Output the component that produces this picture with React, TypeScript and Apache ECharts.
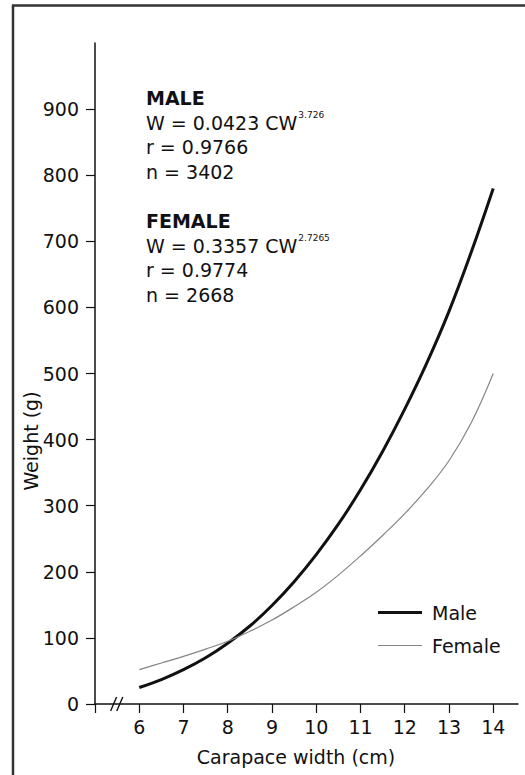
import React, { useEffect, useRef } from 'react';
import * as echarts from 'echarts';

// Carapace width (cm)
const widths = [6, 6.5, 7, 7.5, 8, 8.5, 9, 9.5, 10, 10.5, 11, 11.5, 12, 12.5, 13, 13.5, 14];
// Weight (g)
const maleWeights = [25, 37, 52, 70, 92, 118, 149, 185, 226, 272, 324, 382, 446, 516, 594, 683, 780];
const femaleWeights = [52, 62, 72, 83, 95, 110, 127, 147, 169, 195, 224, 255, 288, 325, 368, 425, 500];

const yTickValues = [0, 100, 200, 300, 400, 500, 600, 700, 800, 900];
const xTickValues = [5, 6, 7, 8, 9, 10, 11, 12, 13, 14];
const xLabelValues = [6, 7, 8, 9, 10, 11, 12, 13, 14];

const FONT = '"DejaVu Sans", Arial, sans-serif';
const INK = '#111';
const MALE_COLOR = '#111';
const FEMALE_COLOR = '#858585';

export default function App() {
  const ref = useRef<HTMLDivElement>(null);

  useEffect(() => {
    if (!ref.current) return;
    const chart = echarts.init(ref.current, undefined, { renderer: 'svg' });

    const annotation = (text: string, y: number, bold = false) => ({
      type: 'text',
      x: 146,
      y,
      style: {
        text,
        fontFamily: FONT,
        fontSize: 19,
        fontWeight: bold ? 'bold' : 'normal',
        fill: INK,
        align: 'left',
        verticalAlign: 'middle',
      },
    });

    const eqn = (base: string, sup: string, y: number) => ({
      type: 'text',
      x: 146,
      y,
      style: {
        text: `{m|${base}}{s|${sup}}`,
        fontFamily: FONT,
        fill: INK,
        align: 'left',
        verticalAlign: 'middle',
        rich: {
          m: { fontFamily: FONT, fontSize: 19, lineHeight: 26, fill: INK, color: INK },
          s: { fontFamily: FONT, fontSize: 9, lineHeight: 11, verticalAlign: 'top', fill: INK, color: INK, padding: [0, 0, 0, 1] },
        },
      },
    });

    const option: any = {
      animation: false,
      backgroundColor: '#fff',
      grid: { left: 95, right: 7, top: 43, bottom: 71 },
      xAxis: {
        type: 'value',
        min: 5,
        max: 14.56,
        interval: 1,
        splitLine: { show: false },
        axisLine: { show: true, onZero: false, lineStyle: { color: INK, width: 1.5 } },
        axisTick: { show: true, length: 9, customValues: xTickValues, lineStyle: { color: INK, width: 1.2 } },
        axisLabel: {
          customValues: xLabelValues,
          margin: 13,
          fontFamily: FONT,
          fontSize: 19,
          color: INK,
        },
      },
      yAxis: {
        type: 'value',
        min: 0,
        max: 1000,
        interval: 100,
        splitLine: { show: false },
        axisLine: { show: true, onZero: false, lineStyle: { color: INK, width: 1.5 } },
        axisTick: { show: true, length: 9, customValues: yTickValues, lineStyle: { color: INK, width: 1.2 } },
        axisLabel: {
          customValues: yTickValues,
          formatter: (v: number) => (v >= 1000 ? '' : String(v)),
          margin: 16,
          fontFamily: FONT,
          fontSize: 19,
          color: INK,
        },
      },
      legend: {
        orient: 'vertical',
        left: 378,
        top: 603,
        itemWidth: 44,
        itemHeight: 14,
        itemGap: 14,
        padding: 0,
        data: [
          { name: 'Male', icon: 'path://M0,0H44V3H0Z', itemStyle: { color: MALE_COLOR } },
          { name: 'Female', icon: 'path://M0,0H44V1.2H0Z', itemStyle: { color: FEMALE_COLOR } },
        ],
        textStyle: { fontFamily: FONT, fontSize: 19, color: INK, padding: [0, 0, 0, 5] },
      },
      series: [
        {
          name: 'Male',
          type: 'line',
          smooth: 0.4,
          symbol: 'none',
          data: widths.map((w, i) => [w, maleWeights[i]]),
          lineStyle: { color: MALE_COLOR, width: 3 },
          itemStyle: { color: MALE_COLOR },
        },
        {
          name: 'Female',
          type: 'line',
          smooth: 0.4,
          symbol: 'none',
          data: widths.map((w, i) => [w, femaleWeights[i]]),
          lineStyle: { color: FEMALE_COLOR, width: 1.2 },
          itemStyle: { color: FEMALE_COLOR },
        },
      ],
      graphic: [],
    };

    chart.setOption(option);

    const p1 = chart.convertToPixel({ gridIndex: 0 }, [5.42, 0]) as number[];
    const p2 = chart.convertToPixel({ gridIndex: 0 }, [5.56, 0]) as number[];

    const graphics: any[] = [
      // frame
      { type: 'line', shape: { x1: 12, y1: 5.5, x2: 525, y2: 5.5 }, style: { stroke: '#333', lineWidth: 2.5 } },
      { type: 'line', shape: { x1: 13, y1: 5, x2: 13, y2: 775 }, style: { stroke: '#333', lineWidth: 2.5 } },
      // axis break
      { type: 'line', shape: { x1: p1[0] - 3, y1: p1[1] + 7, x2: p1[0] + 3, y2: p1[1] - 7 }, style: { stroke: INK, lineWidth: 1.4 } },
      { type: 'line', shape: { x1: p2[0] - 3, y1: p2[1] + 7, x2: p2[0] + 3, y2: p2[1] - 7 }, style: { stroke: INK, lineWidth: 1.4 } },
      // axis names
      {
        type: 'text',
        x: 296,
        y: 757,
        style: { text: 'Carapace width (cm)', fontFamily: FONT, fontSize: 19, fill: INK, align: 'center', verticalAlign: 'middle' },
      },
      {
        type: 'text',
        x: 30.5,
        y: 441,
        rotation: Math.PI / 2,
        style: { text: 'Weight (g)', fontFamily: FONT, fontSize: 19, fill: INK, align: 'center', verticalAlign: 'middle' },
      },
      // annotations
      annotation('MALE', 98, true),
      eqn('W = 0.0423 CW', '3.726', 123),
      annotation('r = 0.9766', 146.5),
      annotation('n = 3402', 172),
      annotation('FEMALE', 220.5, true),
      eqn('W = 0.3357 CW', '2.7265', 246),
      annotation('r = 0.9774', 270),
      annotation('n = 2668', 295),
    ];

    chart.setOption({ graphic: graphics });

    return () => chart.dispose();
  }, []);

  return (
    <div
      ref={ref}
      style={{ position: 'fixed', left: 0, top: 0, width: 525, height: 775, background: '#fff' }}
    />
  );
}
